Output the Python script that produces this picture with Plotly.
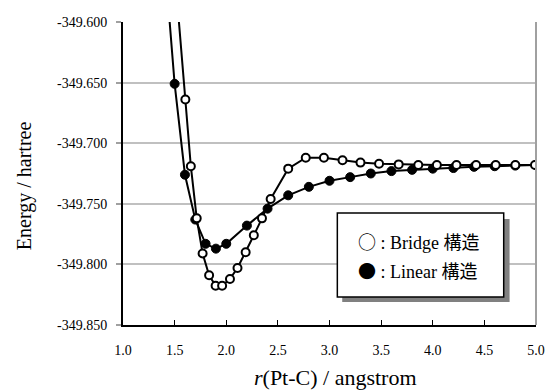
import plotly.graph_objects as go

# Bridge structure (open circles)
bridge_r = [1.50, 1.604, 1.657, 1.714, 1.771, 1.834, 1.897, 1.96, 2.036, 2.109, 2.188, 2.267,
            2.346, 2.43, 2.60, 2.77, 2.946, 3.126, 3.30, 3.48, 3.67, 3.86, 4.04, 4.23,
            4.42, 4.61, 4.80, 4.99]
bridge_e = [-349.557, -349.664, -349.719, -349.762, -349.791, -349.809, -349.8176, -349.8176,
            -349.812, -349.803, -349.790, -349.776, -349.762, -349.746, -349.721, -349.712,
            -349.712, -349.714, -349.716, -349.717, -349.7175, -349.718, -349.718, -349.718,
            -349.718, -349.718, -349.718, -349.718]

# Linear structure (filled circles)
linear_r = [1.4, 1.5, 1.6, 1.7, 1.8, 1.9, 2.0, 2.2, 2.4, 2.6, 2.8, 3.0, 3.2, 3.4, 3.6,
            3.8, 4.0, 4.2, 4.4, 4.6, 4.8, 5.0]
linear_e = [-349.545, -349.651, -349.726, -349.763, -349.783, -349.787, -349.783, -349.768,
            -349.754, -349.743, -349.736, -349.731, -349.728, -349.725, -349.723, -349.722,
            -349.721, -349.7205, -349.7195, -349.719, -349.7185, -349.718]

x_ticks = [1.0, 1.5, 2.0, 2.5, 3.0, 3.5, 4.0, 4.5, 5.0]
y_ticks = [-349.850, -349.800, -349.750, -349.700, -349.650, -349.600]

SERIF = "Liberation Serif"
CJK = "Noto Sans CJK JP"

fig = go.Figure()
fig.add_trace(go.Scatter(
    x=linear_r, y=linear_e, mode="lines+markers", name="Linear",
    line=dict(color="black", width=2),
    marker=dict(symbol="circle", size=9, color="black", line=dict(color="black", width=1)),
    cliponaxis=True,
))
fig.add_trace(go.Scatter(
    x=bridge_r, y=bridge_e, mode="lines+markers", name="Bridge",
    line=dict(color="black", width=2),
    marker=dict(symbol="circle", size=8, color="white", line=dict(color="black", width=2)),
    cliponaxis=True,
))

W, H = 556, 390
L, R, T, B = 123, 11, 22, 65
pw, ph = W - L - R, H - T - B


def px(x):
    return (x - L) / pw


def py(y):
    return (H - B - y) / ph


shapes = [
    dict(type="line", xref="paper", yref="paper", x0=1, x1=1, y0=0, y1=1,
         line=dict(color="#a0a0a0", width=2)),
    dict(type="rect", xref="paper", yref="paper", x0=px(347), x1=px(518), y0=py(302), y1=py(219),
         fillcolor="#808080", line=dict(width=0)),
    dict(type="rect", xref="paper", yref="paper", x0=px(342), x1=px(512), y0=py(297), y1=py(213),
         fillcolor="white", line=dict(color="black", width=1.5)),
]

annotations = [
    dict(xref="paper", yref="paper", x=px(361), y=py(241), xanchor="left", yanchor="middle",
         showarrow=False, font=dict(family=SERIF, size=18, color="black"),
         text=f"<span style='font-family:{CJK}'>○</span> : Bridge <span style='font-family:{CJK}'>構造</span>"),
    dict(xref="paper", yref="paper", x=px(361), y=py(270), xanchor="left", yanchor="middle",
         showarrow=False, font=dict(family=SERIF, size=18, color="black"),
         text=f"<span style='font-family:{CJK}'>●</span> : Linear <span style='font-family:{CJK}'>構造</span>"),
    dict(xref="paper", yref="paper", x=px(22), y=py(186), xanchor="center", yanchor="middle",
         showarrow=False, textangle=-90, font=dict(family=SERIF, size=20, color="black"),
         text="Energy / hartree"),
    dict(xref="paper", yref="paper", x=px(340), y=py(377), xanchor="center", yanchor="middle",
         showarrow=False, font=dict(family=SERIF, size=22, color="black"),
         text="<i>r</i>(Pt-C) / angstrom"),
]

fig.update_layout(
    width=W, height=H,
    margin=dict(l=L, r=R, t=T, b=B, pad=0),
    paper_bgcolor="white", plot_bgcolor="white",
    showlegend=False,
    font=dict(family=SERIF, size=14, color="black"),
    shapes=shapes,
    annotations=annotations,
    xaxis=dict(
        range=[1.0, 5.0], tickvals=x_ticks, ticktext=[f"{v:.1f}" for v in x_ticks],
        tickfont=dict(family=SERIF, size=14),
        showgrid=False, zeroline=False,
        showline=True, linecolor="black", linewidth=2,
        ticks="inside", ticklen=5, tickwidth=1, tickcolor="black",
        ticklabelstandoff=11,
    ),
    yaxis=dict(
        range=[-349.850, -349.600], tickvals=y_ticks, ticktext=[f"{v:.3f}" for v in y_ticks],
        tickfont=dict(family=SERIF, size=14),
        showgrid=True, gridcolor="#c0c0c0", gridwidth=2,
        zeroline=False,
        showline=True, linecolor="black", linewidth=2,
        ticks="outside", ticklen=5, tickwidth=2, tickcolor="#a0a0a0",
        ticklabelstandoff=6,
    ),
)

fig.write_html("out.html")
